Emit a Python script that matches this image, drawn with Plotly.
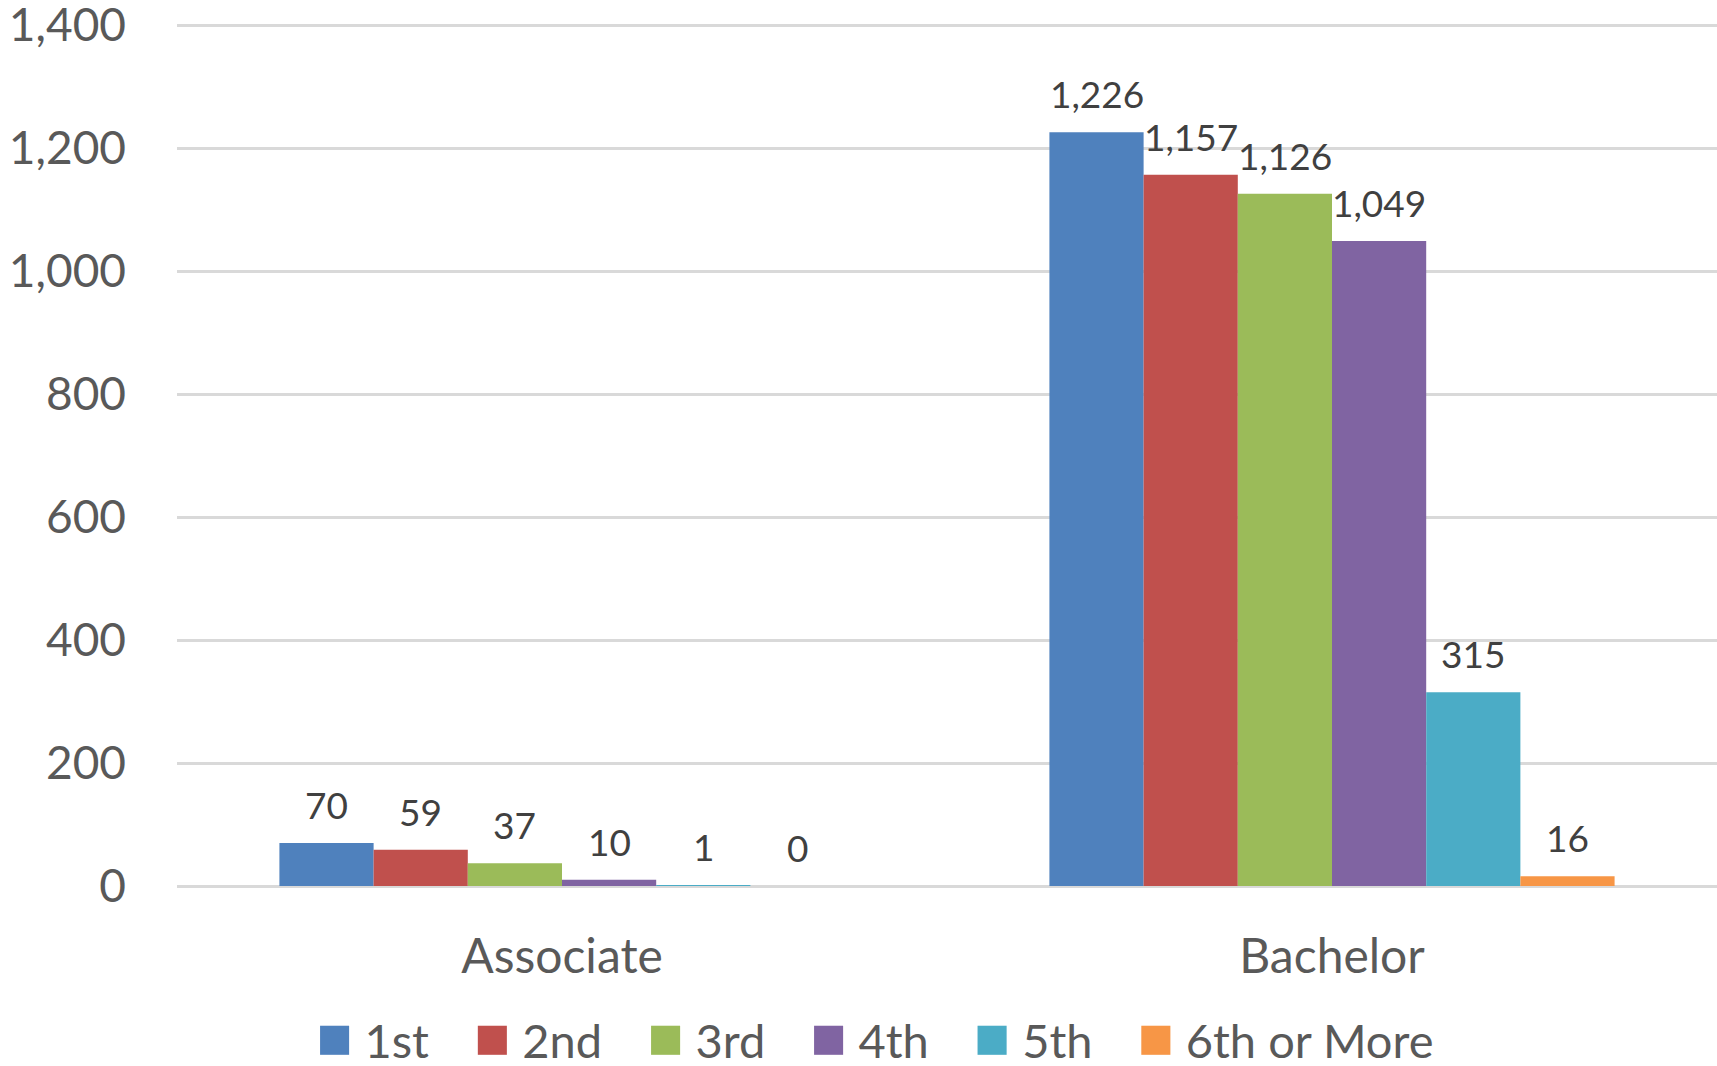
import plotly.graph_objects as go

# degree types on the x axis
categories = ["Associate", "Bachelor"]

# number of students per attempt
series_names = ["1st", "2nd", "3rd", "4th", "5th", "6th or More"]
values_1st = [70, 1226]
values_2nd = [59, 1157]
values_3rd = [37, 1126]
values_4th = [10, 1049]
values_5th = [1, 315]
values_6th = [0, 16]

all_values = [values_1st, values_2nd, values_3rd, values_4th, values_5th, values_6th]
colors = ["#4F81BD", "#C0504D", "#9BBB59", "#8064A2", "#4BACC6", "#F79646"]

FONT = "Lato"
BARGAP = 0.266

fig = go.Figure()

for name, vals, col in zip(series_names, all_values, colors):
    fig.add_trace(go.Bar(
        x=categories, y=vals, name=name,
        marker=dict(color=col, line=dict(width=0)),
        showlegend=False,
    ))

# data labels, lifted a bit above the bars like Excel does
n = len(series_names)
w = (1 - BARGAP) / n
for i, vals in enumerate(all_values):
    for j, v in enumerate(vals):
        fig.add_annotation(
            x=j + (i - (n - 1) / 2) * w, y=v, xref="x", yref="y",
            text=f"{v:,}", showarrow=False, yanchor="bottom", yshift=14,
            font=dict(family=FONT, size=37, color="#404040"),
        )

# legend entries: coloured square glyph + label, symbol itself hidden
for name, col in zip(series_names, colors):
    fig.add_trace(go.Scatter(
        x=[None], y=[None], mode="markers",
        name=f'<span style="color:{col};font-size:60px">■</span> {name}',
        marker=dict(size=1, color="rgba(0,0,0,0)", line=dict(width=0)),
        showlegend=True,
    ))

fig.update_layout(
    width=1717, height=1066,
    paper_bgcolor="white", plot_bgcolor="white",
    margin=dict(l=177, r=0, t=13, b=180, autoexpand=False),
    barmode="group", bargap=BARGAP, bargroupgap=0,
    font=dict(family=FONT, color="#595959"),
    legend=dict(
        orientation="h", x=0.442, xanchor="center", y=-0.176, yanchor="middle",
        font=dict(family=FONT, size=47, color="#595959"),
        itemwidth=30, traceorder="normal",
    ),
)

fig.update_xaxes(
    type="category",
    tickfont=dict(family=FONT, size=48, color="#595959"),
    showgrid=False, showline=False, ticks="",
    ticklabelstandoff=38,
)

fig.update_yaxes(
    range=[0, 1420], tickvals=[0, 200, 400, 600, 800, 1000, 1200, 1400],
    tickformat=",", ticklabeloverflow="allow",
    tickfont=dict(family=FONT, size=46, color="#595959"),
    showgrid=True, gridcolor="#D9D9D9", gridwidth=2.5,
    zeroline=True, zerolinecolor="#D9D9D9", zerolinewidth=2.5,
    showline=False, ticks="",
    ticklabelstandoff=50,
)

fig.write_html(
    "out.html",
    config={"displayModeBar": False},
    post_script="document.body.style.margin='0';document.body.style.overflow='hidden';",
)
